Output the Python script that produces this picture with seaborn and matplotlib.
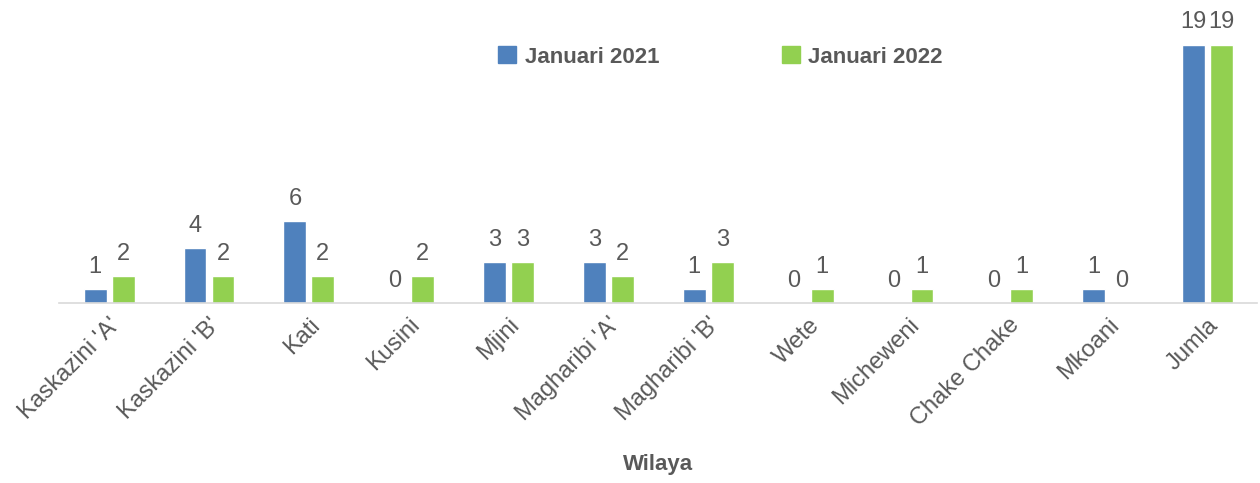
import pandas as pd
import seaborn as sns
import matplotlib.pyplot as plt

wilaya = ["Kaskazini 'A'", "Kaskazini 'B'", "Kati", "Kusini", "Mjini", "Magharibi 'A'",
          "Magharibi 'B'", "Wete", "Micheweni", "Chake Chake", "Mkoani", "Jumla"]
jan_2021 = [1, 4, 6, 0, 3, 3, 1, 0, 0, 0, 1, 19]
jan_2022 = [2, 2, 2, 2, 3, 2, 3, 1, 1, 1, 0, 19]
series = ["Januari 2021", "Januari 2022"]
colors = ["#4F81BD", "#92D050"]

df = pd.DataFrame({
    "wilaya": wilaya * 2,
    "value": jan_2021 + jan_2022,
    "series": [series[0]] * len(wilaya) + [series[1]] * len(wilaya),
})

sns.set_theme(style="white")
plt.rcParams['font.family'] = ['Liberation Sans Narrow', 'Liberation Sans', 'DejaVu Sans']
text_color = "#595959"

fig = plt.figure(figsize=(12.6, 4.83), dpi=100)
ax = fig.add_axes([0.047, 0.373, 0.951, 0.563])
sns.barplot(data=df, x="wilaya", y="value", hue="series", palette=colors,
            saturation=1, width=0.56, gap=0.18, ax=ax, legend=False)

for c in ax.containers:
    ax.bar_label(c, padding=8, fontsize=17, color=text_color)

ax.set_ylim(0, 20)
ax.set_xlim(-0.5, len(wilaya) - 0.5)
ax.set_yticks([])
ax.set_ylabel("")
for s in ["top", "right", "left"]:
    ax.spines[s].set_visible(False)
ax.spines["bottom"].set_color("#D9D9D9")
ax.spines["bottom"].set_linewidth(1.2)
ax.tick_params(axis="x", length=0, pad=8)
plt.setp(ax.get_xticklabels(), rotation=45, ha="right", rotation_mode="anchor",
         fontsize=17, color=text_color)
ax.set_xlabel("Wilaya", fontsize=16, fontweight="bold", color=text_color, labelpad=17)

handles = [plt.Rectangle((0, 0), 1, 1, color=col) for col in colors]
fig.legend(handles, series, loc="center", bbox_to_anchor=(0.572, 0.882), ncol=2,
           frameon=False, columnspacing=5.5, handlelength=0.8, handleheight=0.8,
           handletextpad=0.4, prop={"size": 16, "weight": "bold"}, labelcolor=text_color)

fig.savefig("out.png", dpi=100)
